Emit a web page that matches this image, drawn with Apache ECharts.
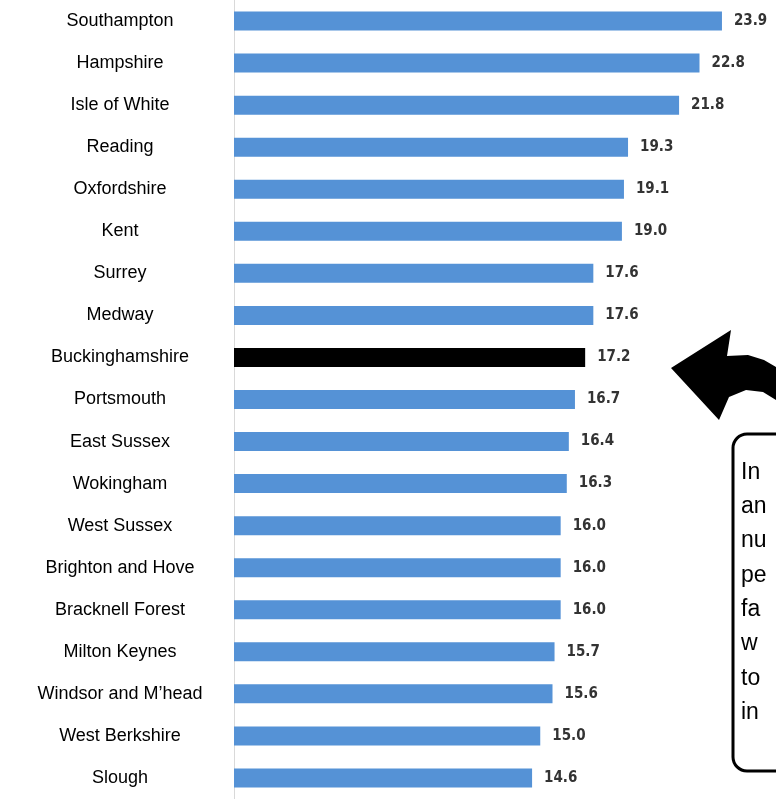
<!DOCTYPE html>
<html>
<head>
<meta charset="utf-8">
<script src="https://cdn.jsdelivr.net/npm/echarts@6/dist/echarts.min.js"></script>
<style>html,body{margin:0;padding:0;background:#fff}#c{width:776px;height:799px}</style>
</head>
<body>
<div id="c"></div>
<script>
var areas = ['Southampton', 'Hampshire', 'Isle of White', 'Reading', 'Oxfordshire', 'Kent', 'Surrey', 'Medway',
    'Buckinghamshire', 'Portsmouth', 'East Sussex', 'Wokingham', 'West Sussex', 'Brighton and Hove',
    'Bracknell Forest', 'Milton Keynes', 'Windsor and M\u2019head', 'West Berkshire', 'Slough'];
var rates = [23.9, 22.8, 21.8, 19.3, 19.1, 19.0, 17.6, 17.6, 17.2, 16.7, 16.4, 16.3, 16.0, 16.0, 16.0, 15.7, 15.6, 15.0, 14.6];
var highlight = 'Buckinghamshire';
var noteLines = ['In', 'an', 'nu', 'pe', 'fa', 'w', 'to', 'in'];

var chart = echarts.init(document.getElementById('c'));
var noteText = noteLines.map(function (t, i) {
    return {
        type: 'text', left: 741, top: 461 + i * 34.3,
        style: { text: t, font: '23px "Liberation Sans", Arial', fill: '#000' }
    };
});
var option = {
    animation: false,
    grid: { left: 234, right: 52, top: -1, height: 811 },
    xAxis: { type: 'value', min: 0, max: 24, show: false },
    yAxis: {
        type: 'category', inverse: true, data: areas,
        axisLine: { show: true, lineStyle: { color: '#d9d9d9', width: 1 } },
        axisTick: { show: false },
        axisLabel: {
            margin: 114, align: 'center', color: '#000',
            fontFamily: '"Liberation Sans", Arial', fontSize: 18
        }
    },
    series: [{
        type: 'bar', barWidth: 19,
        data: rates.map(function (v, i) {
            return { value: v, itemStyle: { color: areas[i] === highlight ? '#000' : '#5592d6' } };
        }),
        label: {
            show: true, position: 'right', distance: 12,
            formatter: function (p) { return p.value.toFixed(1); },
            color: '#333', fontWeight: 'bold', fontSize: 15,
            fontFamily: '"Liberation Sans Narrow", "DejaVu Sans Condensed", sans-serif'
        }
    }],
    graphic: [{
        type: 'rect', shape: { x: 733, y: 434, width: 80, height: 337, r: 14 },
        style: { fill: '#fff', stroke: '#000', lineWidth: 3 }
    }, {
        type: 'polygon',
        shape: { points: [[671, 368], [731, 330], [727, 356], [748, 355], [764, 360], [776, 367],
            [776, 400], [763, 392], [746, 390], [729, 397], [719, 420]] },
        style: { fill: '#000' }
    }].concat(noteText)
};
chart.setOption(option);
</script>
</body>
</html>
